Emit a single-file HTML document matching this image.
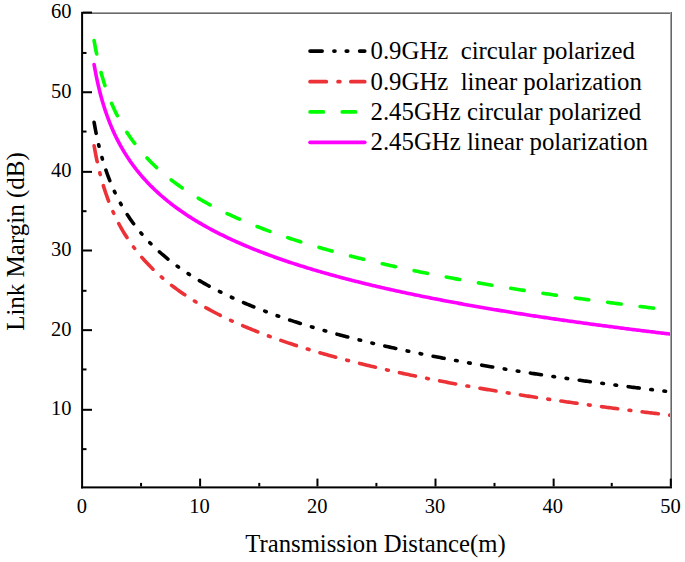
<!DOCTYPE html>
<html><head><meta charset="utf-8"><style>
html,body{margin:0;padding:0;background:#fff;}
body{width:685px;height:562px;overflow:hidden;}
svg{display:block;font-family:"Liberation Serif",serif;}
text{fill:#000;}
</style></head><body>
<svg width="685" height="562" viewBox="0 0 685 562">
<rect width="685" height="562" fill="#fff"/>
<rect x="82" y="12" width="590" height="1" fill="#a4a4a4"/>
<rect x="82" y="13" width="590" height="1" fill="#6a6a6a"/>
<rect x="670" y="12" width="1" height="476" fill="#a4a4a4"/>
<rect x="671" y="12" width="1" height="476" fill="#666"/>
<defs><clipPath id="pc"><rect x="83" y="14" width="587" height="472"/></clipPath></defs>
<g clip-path="url(#pc)">
<path d="M94.10,122.33 L95.54,130.29 L96.99,137.42 L98.43,143.89 L99.87,149.80 L101.31,155.25 L102.75,160.29 L104.20,164.99 L105.64,169.39 L107.08,173.53 L108.52,177.43 L109.96,181.13 L111.41,184.63 L112.85,187.97 L114.29,191.15 L115.73,194.19 L117.18,197.10 L118.62,199.89 L120.06,202.58 L121.50,205.16 L122.94,207.66 L124.39,210.06 L125.83,212.38 L127.27,214.63 L128.71,216.81 L130.15,218.92 L131.60,220.96 L133.04,222.95 L134.48,224.88 L135.92,226.76 L137.36,228.59 L138.81,230.38 L140.25,232.11 L141.69,233.81 L143.13,235.46 L144.57,237.08 L146.02,238.65 L147.46,240.20 L148.90,241.71 L150.34,243.18 L151.78,244.63 L153.23,246.04 L154.67,247.43 L156.11,248.79 L157.55,250.13 L159.00,251.43 L160.44,252.72 L161.88,253.98 L163.32,255.22 L164.76,256.43 L166.21,257.63 L167.65,258.80 L169.09,259.96 L170.53,261.09 L171.97,262.21 L173.42,263.31 L174.86,264.39 L176.30,265.46 L177.74,266.51 L179.18,267.54 L180.63,268.56 L182.07,269.56 L183.51,270.55 L184.95,271.53 L186.39,272.49 L187.84,273.44 L189.28,274.37 L190.72,275.30 L192.16,276.21 L193.60,277.11 L195.05,277.99 L196.49,278.87 L197.93,279.73 L199.37,280.59 L200.82,281.43 L202.26,282.27 L203.70,283.09 L205.14,283.90 L206.58,284.71 L208.03,285.50 L209.47,286.29 L210.91,287.07 L212.35,287.83 L213.79,288.59 L215.24,289.35 L216.68,290.09 L218.12,290.83 L219.56,291.55 L221.00,292.27 L222.45,292.99 L223.89,293.69 L225.33,294.39 L226.77,295.08 L228.21,295.77 L229.66,296.44 L231.10,297.11 L232.54,297.78 L233.98,298.44 L235.42,299.09 L236.87,299.74 L238.31,300.38 L239.75,301.01 L241.19,301.64 L242.64,302.26 L244.08,302.88 L245.52,303.49 L246.96,304.10 L248.40,304.70 L249.85,305.29 L251.29,305.88 L252.73,306.47 L254.17,307.05 L255.61,307.63 L257.06,308.20 L258.50,308.76 L259.94,309.32 L261.38,309.88 L262.82,310.43 L264.27,310.98 L265.71,311.53 L267.15,312.07 L268.59,312.60 L270.03,313.13 L271.48,313.66 L272.92,314.18 L274.36,314.70 L275.80,315.22 L277.24,315.73 L278.69,316.24 L280.13,316.74 L281.57,317.24 L283.01,317.74 L284.46,318.23 L285.90,318.72 L287.34,319.21 L288.78,319.69 L290.22,320.17 L291.67,320.65 L293.11,321.12 L294.55,321.59 L295.99,322.06 L297.43,322.52 L298.88,322.98 L300.32,323.44 L301.76,323.89 L303.20,324.35 L304.64,324.79 L306.09,325.24 L307.53,325.68 L308.97,326.12 L310.41,326.56 L311.85,326.99 L313.30,327.43 L314.74,327.85 L316.18,328.28 L317.62,328.70 L319.06,329.12 L320.51,329.54 L321.95,329.96 L323.39,330.37 L324.83,330.78 L326.28,331.19 L327.72,331.60 L329.16,332.00 L330.60,332.40 L332.04,332.80 L333.49,333.20 L334.93,333.59 L336.37,333.99 L337.81,334.38 L339.25,334.76 L340.70,335.15 L342.14,335.53 L343.58,335.91 L345.02,336.29 L346.46,336.67 L347.91,337.05 L349.35,337.42 L350.79,337.79 L352.23,338.16 L353.67,338.53 L355.12,338.89 L356.56,339.26 L358.00,339.62 L359.44,339.98 L360.88,340.33 L362.33,340.69 L363.77,341.04 L365.21,341.40 L366.65,341.75 L368.10,342.09 L369.54,342.44 L370.98,342.79 L372.42,343.13 L373.86,343.47 L375.31,343.81 L376.75,344.15 L378.19,344.49 L379.63,344.82 L381.07,345.16 L382.52,345.49 L383.96,345.82 L385.40,346.15 L386.84,346.47 L388.28,346.80 L389.73,347.12 L391.17,347.45 L392.61,347.77 L394.05,348.09 L395.49,348.40 L396.94,348.72 L398.38,349.04 L399.82,349.35 L401.26,349.66 L402.70,349.97 L404.15,350.28 L405.59,350.59 L407.03,350.90 L408.47,351.20 L409.92,351.51 L411.36,351.81 L412.80,352.11 L414.24,352.41 L415.68,352.71 L417.13,353.01 L418.57,353.30 L420.01,353.60 L421.45,353.89 L422.89,354.18 L424.34,354.47 L425.78,354.76 L427.22,355.05 L428.66,355.34 L430.10,355.63 L431.55,355.91 L432.99,356.20 L434.43,356.48 L435.87,356.76 L437.31,357.04 L438.76,357.32 L440.20,357.60 L441.64,357.88 L443.08,358.15 L444.53,358.43 L445.97,358.70 L447.41,358.97 L448.85,359.24 L450.29,359.51 L451.74,359.78 L453.18,360.05 L454.62,360.32 L456.06,360.59 L457.50,360.85 L458.95,361.12 L460.39,361.38 L461.83,361.64 L463.27,361.90 L464.71,362.16 L466.16,362.42 L467.60,362.68 L469.04,362.94 L470.48,363.20 L471.92,363.45 L473.37,363.71 L474.81,363.96 L476.25,364.21 L477.69,364.46 L479.13,364.71 L480.58,364.96 L482.02,365.21 L483.46,365.46 L484.90,365.71 L486.35,365.96 L487.79,366.20 L489.23,366.45 L490.67,366.69 L492.11,366.93 L493.56,367.17 L495.00,367.42 L496.44,367.66 L497.88,367.90 L499.32,368.13 L500.77,368.37 L502.21,368.61 L503.65,368.85 L505.09,369.08 L506.53,369.32 L507.98,369.55 L509.42,369.78 L510.86,370.01 L512.30,370.25 L513.74,370.48 L515.19,370.71 L516.63,370.94 L518.07,371.16 L519.51,371.39 L520.95,371.62 L522.40,371.84 L523.84,372.07 L525.28,372.30 L526.72,372.52 L528.17,372.74 L529.61,372.96 L531.05,373.19 L532.49,373.41 L533.93,373.63 L535.38,373.85 L536.82,374.07 L538.26,374.29 L539.70,374.50 L541.14,374.72 L542.59,374.94 L544.03,375.15 L545.47,375.37 L546.91,375.58 L548.35,375.79 L549.80,376.01 L551.24,376.22 L552.68,376.43 L554.12,376.64 L555.56,376.85 L557.01,377.06 L558.45,377.27 L559.89,377.48 L561.33,377.69 L562.77,377.89 L564.22,378.10 L565.66,378.31 L567.10,378.51 L568.54,378.72 L569.99,378.92 L571.43,379.12 L572.87,379.33 L574.31,379.53 L575.75,379.73 L577.20,379.93 L578.64,380.13 L580.08,380.33 L581.52,380.53 L582.96,380.73 L584.41,380.93 L585.85,381.13 L587.29,381.32 L588.73,381.52 L590.17,381.72 L591.62,381.91 L593.06,382.11 L594.50,382.30 L595.94,382.49 L597.38,382.69 L598.83,382.88 L600.27,383.07 L601.71,383.26 L603.15,383.45 L604.59,383.64 L606.04,383.83 L607.48,384.02 L608.92,384.21 L610.36,384.40 L611.81,384.59 L613.25,384.78 L614.69,384.96 L616.13,385.15 L617.57,385.34 L619.02,385.52 L620.46,385.71 L621.90,385.89 L623.34,386.07 L624.78,386.26 L626.23,386.44 L627.67,386.62 L629.11,386.81 L630.55,386.99 L631.99,387.17 L633.44,387.35 L634.88,387.53 L636.32,387.71 L637.76,387.89 L639.20,388.07 L640.65,388.24 L642.09,388.42 L643.53,388.60 L644.97,388.78 L646.41,388.95 L647.86,389.13 L649.30,389.30 L650.74,389.48 L652.18,389.65 L653.63,389.83 L655.07,390.00 L656.51,390.17 L657.95,390.35 L659.39,390.52 L660.84,390.69 L662.28,390.86 L663.72,391.03 L665.16,391.21 L666.60,391.38 L668.05,391.55 L669.49,391.71 L670.93,391.88" fill="none" stroke="#000000" stroke-width="3.6" stroke-linecap="round" stroke-linejoin="round" stroke-dasharray="11.20 11.65 1.60 11.65 1.60 11.65"/>
<path d="M94.10,145.73 L95.54,153.69 L96.99,160.83 L98.43,167.29 L99.87,173.21 L101.31,178.65 L102.75,183.70 L104.20,188.40 L105.64,192.80 L107.08,196.93 L108.52,200.84 L109.96,204.53 L111.41,208.03 L112.85,211.37 L114.29,214.55 L115.73,217.59 L117.18,220.50 L118.62,223.30 L120.06,225.98 L121.50,228.57 L122.94,231.06 L124.39,233.46 L125.83,235.79 L127.27,238.03 L128.71,240.21 L130.15,242.32 L131.60,244.37 L133.04,246.35 L134.48,248.29 L135.92,250.17 L137.36,252.00 L138.81,253.78 L140.25,255.51 L141.69,257.21 L143.13,258.86 L144.57,260.48 L146.02,262.06 L147.46,263.60 L148.90,265.11 L150.34,266.59 L151.78,268.03 L153.23,269.45 L154.67,270.83 L156.11,272.19 L157.55,273.53 L159.00,274.84 L160.44,276.12 L161.88,277.38 L163.32,278.62 L164.76,279.84 L166.21,281.03 L167.65,282.21 L169.09,283.36 L170.53,284.50 L171.97,285.61 L173.42,286.71 L174.86,287.80 L176.30,288.86 L177.74,289.91 L179.18,290.94 L180.63,291.96 L182.07,292.97 L183.51,293.96 L184.95,294.93 L186.39,295.89 L187.84,296.84 L189.28,297.78 L190.72,298.70 L192.16,299.61 L193.60,300.51 L195.05,301.40 L196.49,302.27 L197.93,303.14 L199.37,303.99 L200.82,304.83 L202.26,305.67 L203.70,306.49 L205.14,307.31 L206.58,308.11 L208.03,308.90 L209.47,309.69 L210.91,310.47 L212.35,311.24 L213.79,312.00 L215.24,312.75 L216.68,313.49 L218.12,314.23 L219.56,314.96 L221.00,315.68 L222.45,316.39 L223.89,317.09 L225.33,317.79 L226.77,318.48 L228.21,319.17 L229.66,319.85 L231.10,320.52 L232.54,321.18 L233.98,321.84 L235.42,322.49 L236.87,323.14 L238.31,323.78 L239.75,324.41 L241.19,325.04 L242.64,325.66 L244.08,326.28 L245.52,326.89 L246.96,327.50 L248.40,328.10 L249.85,328.70 L251.29,329.29 L252.73,329.87 L254.17,330.45 L255.61,331.03 L257.06,331.60 L258.50,332.17 L259.94,332.73 L261.38,333.28 L262.82,333.84 L264.27,334.39 L265.71,334.93 L267.15,335.47 L268.59,336.00 L270.03,336.54 L271.48,337.06 L272.92,337.59 L274.36,338.11 L275.80,338.62 L277.24,339.13 L278.69,339.64 L280.13,340.15 L281.57,340.65 L283.01,341.14 L284.46,341.64 L285.90,342.13 L287.34,342.61 L288.78,343.10 L290.22,343.58 L291.67,344.05 L293.11,344.52 L294.55,344.99 L295.99,345.46 L297.43,345.92 L298.88,346.39 L300.32,346.84 L301.76,347.30 L303.20,347.75 L304.64,348.20 L306.09,348.64 L307.53,349.08 L308.97,349.52 L310.41,349.96 L311.85,350.40 L313.30,350.83 L314.74,351.26 L316.18,351.68 L317.62,352.11 L319.06,352.53 L320.51,352.95 L321.95,353.36 L323.39,353.77 L324.83,354.19 L326.28,354.59 L327.72,355.00 L329.16,355.40 L330.60,355.81 L332.04,356.20 L333.49,356.60 L334.93,357.00 L336.37,357.39 L337.81,357.78 L339.25,358.17 L340.70,358.55 L342.14,358.94 L343.58,359.32 L345.02,359.70 L346.46,360.07 L347.91,360.45 L349.35,360.82 L350.79,361.19 L352.23,361.56 L353.67,361.93 L355.12,362.29 L356.56,362.66 L358.00,363.02 L359.44,363.38 L360.88,363.74 L362.33,364.09 L363.77,364.45 L365.21,364.80 L366.65,365.15 L368.10,365.50 L369.54,365.84 L370.98,366.19 L372.42,366.53 L373.86,366.87 L375.31,367.21 L376.75,367.55 L378.19,367.89 L379.63,368.22 L381.07,368.56 L382.52,368.89 L383.96,369.22 L385.40,369.55 L386.84,369.88 L388.28,370.20 L389.73,370.52 L391.17,370.85 L392.61,371.17 L394.05,371.49 L395.49,371.81 L396.94,372.12 L398.38,372.44 L399.82,372.75 L401.26,373.06 L402.70,373.37 L404.15,373.68 L405.59,373.99 L407.03,374.30 L408.47,374.60 L409.92,374.91 L411.36,375.21 L412.80,375.51 L414.24,375.81 L415.68,376.11 L417.13,376.41 L418.57,376.70 L420.01,377.00 L421.45,377.29 L422.89,377.59 L424.34,377.88 L425.78,378.17 L427.22,378.46 L428.66,378.74 L430.10,379.03 L431.55,379.31 L432.99,379.60 L434.43,379.88 L435.87,380.16 L437.31,380.44 L438.76,380.72 L440.20,381.00 L441.64,381.28 L443.08,381.55 L444.53,381.83 L445.97,382.10 L447.41,382.37 L448.85,382.65 L450.29,382.92 L451.74,383.19 L453.18,383.46 L454.62,383.72 L456.06,383.99 L457.50,384.25 L458.95,384.52 L460.39,384.78 L461.83,385.04 L463.27,385.31 L464.71,385.57 L466.16,385.83 L467.60,386.08 L469.04,386.34 L470.48,386.60 L471.92,386.85 L473.37,387.11 L474.81,387.36 L476.25,387.61 L477.69,387.87 L479.13,388.12 L480.58,388.37 L482.02,388.62 L483.46,388.86 L484.90,389.11 L486.35,389.36 L487.79,389.60 L489.23,389.85 L490.67,390.09 L492.11,390.33 L493.56,390.58 L495.00,390.82 L496.44,391.06 L497.88,391.30 L499.32,391.54 L500.77,391.77 L502.21,392.01 L503.65,392.25 L505.09,392.48 L506.53,392.72 L507.98,392.95 L509.42,393.18 L510.86,393.42 L512.30,393.65 L513.74,393.88 L515.19,394.11 L516.63,394.34 L518.07,394.57 L519.51,394.79 L520.95,395.02 L522.40,395.25 L523.84,395.47 L525.28,395.70 L526.72,395.92 L528.17,396.14 L529.61,396.37 L531.05,396.59 L532.49,396.81 L533.93,397.03 L535.38,397.25 L536.82,397.47 L538.26,397.69 L539.70,397.90 L541.14,398.12 L542.59,398.34 L544.03,398.55 L545.47,398.77 L546.91,398.98 L548.35,399.20 L549.80,399.41 L551.24,399.62 L552.68,399.83 L554.12,400.04 L555.56,400.25 L557.01,400.46 L558.45,400.67 L559.89,400.88 L561.33,401.09 L562.77,401.30 L564.22,401.50 L565.66,401.71 L567.10,401.91 L568.54,402.12 L569.99,402.32 L571.43,402.53 L572.87,402.73 L574.31,402.93 L575.75,403.13 L577.20,403.33 L578.64,403.53 L580.08,403.73 L581.52,403.93 L582.96,404.13 L584.41,404.33 L585.85,404.53 L587.29,404.73 L588.73,404.92 L590.17,405.12 L591.62,405.31 L593.06,405.51 L594.50,405.70 L595.94,405.90 L597.38,406.09 L598.83,406.28 L600.27,406.47 L601.71,406.67 L603.15,406.86 L604.59,407.05 L606.04,407.24 L607.48,407.43 L608.92,407.62 L610.36,407.80 L611.81,407.99 L613.25,408.18 L614.69,408.37 L616.13,408.55 L617.57,408.74 L619.02,408.92 L620.46,409.11 L621.90,409.29 L623.34,409.48 L624.78,409.66 L626.23,409.84 L627.67,410.03 L629.11,410.21 L630.55,410.39 L631.99,410.57 L633.44,410.75 L634.88,410.93 L636.32,411.11 L637.76,411.29 L639.20,411.47 L640.65,411.65 L642.09,411.82 L643.53,412.00 L644.97,412.18 L646.41,412.35 L647.86,412.53 L649.30,412.71 L650.74,412.88 L652.18,413.06 L653.63,413.23 L655.07,413.40 L656.51,413.58 L657.95,413.75 L659.39,413.92 L660.84,414.09 L662.28,414.27 L663.72,414.44 L665.16,414.61 L666.60,414.78 L668.05,414.95 L669.49,415.12 L670.93,415.29" fill="none" stroke="#ec3236" stroke-width="3.6" stroke-linecap="round" stroke-linejoin="round" stroke-dasharray="16.30 11.44 1.80 11.44"/>
<path d="M94.10,40.62 L95.54,48.58 L96.99,55.72 L98.43,62.18 L99.87,68.09 L101.31,73.54 L102.75,78.58 L104.20,83.28 L105.64,87.68 L107.08,91.82 L108.52,95.72 L109.96,99.42 L111.41,102.92 L112.85,106.26 L114.29,109.44 L115.73,112.48 L117.18,115.39 L118.62,118.18 L120.06,120.87 L121.50,123.45 L122.94,125.95 L124.39,128.35 L125.83,130.67 L127.27,132.92 L128.71,135.10 L130.15,137.21 L131.60,139.25 L133.04,141.24 L134.48,143.17 L135.92,145.05 L137.36,146.88 L138.81,148.67 L140.25,150.40 L141.69,152.10 L143.13,153.75 L144.57,155.37 L146.02,156.94 L147.46,158.49 L148.90,160.00 L150.34,161.47 L151.78,162.92 L153.23,164.33 L154.67,165.72 L156.11,167.08 L157.55,168.42 L159.00,169.72 L160.44,171.01 L161.88,172.27 L163.32,173.51 L164.76,174.72 L166.21,175.92 L167.65,177.09 L169.09,178.25 L170.53,179.38 L171.97,180.50 L173.42,181.60 L174.86,182.68 L176.30,183.75 L177.74,184.80 L179.18,185.83 L180.63,186.85 L182.07,187.85 L183.51,188.84 L184.95,189.82 L186.39,190.78 L187.84,191.73 L189.28,192.66 L190.72,193.59 L192.16,194.50 L193.60,195.40 L195.05,196.28 L196.49,197.16 L197.93,198.02 L199.37,198.88 L200.82,199.72 L202.26,200.56 L203.70,201.38 L205.14,202.19 L206.58,203.00 L208.03,203.79 L209.47,204.58 L210.91,205.36 L212.35,206.12 L213.79,206.88 L215.24,207.64 L216.68,208.38 L218.12,209.12 L219.56,209.84 L221.00,210.56 L222.45,211.28 L223.89,211.98 L225.33,212.68 L226.77,213.37 L228.21,214.06 L229.66,214.73 L231.10,215.41 L232.54,216.07 L233.98,216.73 L235.42,217.38 L236.87,218.03 L238.31,218.67 L239.75,219.30 L241.19,219.93 L242.64,220.55 L244.08,221.17 L245.52,221.78 L246.96,222.39 L248.40,222.99 L249.85,223.58 L251.29,224.17 L252.73,224.76 L254.17,225.34 L255.61,225.92 L257.06,226.49 L258.50,227.05 L259.94,227.61 L261.38,228.17 L262.82,228.72 L264.27,229.27 L265.71,229.82 L267.15,230.36 L268.59,230.89 L270.03,231.42 L271.48,231.95 L272.92,232.47 L274.36,232.99 L275.80,233.51 L277.24,234.02 L278.69,234.53 L280.13,235.03 L281.57,235.53 L283.01,236.03 L284.46,236.52 L285.90,237.01 L287.34,237.50 L288.78,237.98 L290.22,238.46 L291.67,238.94 L293.11,239.41 L294.55,239.88 L295.99,240.35 L297.43,240.81 L298.88,241.27 L300.32,241.73 L301.76,242.18 L303.20,242.64 L304.64,243.08 L306.09,243.53 L307.53,243.97 L308.97,244.41 L310.41,244.85 L311.85,245.28 L313.30,245.72 L314.74,246.14 L316.18,246.57 L317.62,246.99 L319.06,247.41 L320.51,247.83 L321.95,248.25 L323.39,248.66 L324.83,249.07 L326.28,249.48 L327.72,249.89 L329.16,250.29 L330.60,250.69 L332.04,251.09 L333.49,251.49 L334.93,251.88 L336.37,252.28 L337.81,252.67 L339.25,253.05 L340.70,253.44 L342.14,253.82 L343.58,254.20 L345.02,254.58 L346.46,254.96 L347.91,255.34 L349.35,255.71 L350.79,256.08 L352.23,256.45 L353.67,256.82 L355.12,257.18 L356.56,257.55 L358.00,257.91 L359.44,258.27 L360.88,258.62 L362.33,258.98 L363.77,259.33 L365.21,259.69 L366.65,260.04 L368.10,260.38 L369.54,260.73 L370.98,261.08 L372.42,261.42 L373.86,261.76 L375.31,262.10 L376.75,262.44 L378.19,262.78 L379.63,263.11 L381.07,263.45 L382.52,263.78 L383.96,264.11 L385.40,264.44 L386.84,264.76 L388.28,265.09 L389.73,265.41 L391.17,265.74 L392.61,266.06 L394.05,266.38 L395.49,266.69 L396.94,267.01 L398.38,267.33 L399.82,267.64 L401.26,267.95 L402.70,268.26 L404.15,268.57 L405.59,268.88 L407.03,269.19 L408.47,269.49 L409.92,269.80 L411.36,270.10 L412.80,270.40 L414.24,270.70 L415.68,271.00 L417.13,271.30 L418.57,271.59 L420.01,271.89 L421.45,272.18 L422.89,272.47 L424.34,272.76 L425.78,273.05 L427.22,273.34 L428.66,273.63 L430.10,273.92 L431.55,274.20 L432.99,274.49 L434.43,274.77 L435.87,275.05 L437.31,275.33 L438.76,275.61 L440.20,275.89 L441.64,276.17 L443.08,276.44 L444.53,276.72 L445.97,276.99 L447.41,277.26 L448.85,277.53 L450.29,277.80 L451.74,278.07 L453.18,278.34 L454.62,278.61 L456.06,278.88 L457.50,279.14 L458.95,279.41 L460.39,279.67 L461.83,279.93 L463.27,280.19 L464.71,280.45 L466.16,280.71 L467.60,280.97 L469.04,281.23 L470.48,281.49 L471.92,281.74 L473.37,282.00 L474.81,282.25 L476.25,282.50 L477.69,282.75 L479.13,283.00 L480.58,283.25 L482.02,283.50 L483.46,283.75 L484.90,284.00 L486.35,284.25 L487.79,284.49 L489.23,284.74 L490.67,284.98 L492.11,285.22 L493.56,285.46 L495.00,285.71 L496.44,285.95 L497.88,286.19 L499.32,286.42 L500.77,286.66 L502.21,286.90 L503.65,287.14 L505.09,287.37 L506.53,287.61 L507.98,287.84 L509.42,288.07 L510.86,288.30 L512.30,288.54 L513.74,288.77 L515.19,289.00 L516.63,289.23 L518.07,289.45 L519.51,289.68 L520.95,289.91 L522.40,290.14 L523.84,290.36 L525.28,290.59 L526.72,290.81 L528.17,291.03 L529.61,291.25 L531.05,291.48 L532.49,291.70 L533.93,291.92 L535.38,292.14 L536.82,292.36 L538.26,292.58 L539.70,292.79 L541.14,293.01 L542.59,293.23 L544.03,293.44 L545.47,293.66 L546.91,293.87 L548.35,294.08 L549.80,294.30 L551.24,294.51 L552.68,294.72 L554.12,294.93 L555.56,295.14 L557.01,295.35 L558.45,295.56 L559.89,295.77 L561.33,295.98 L562.77,296.18 L564.22,296.39 L565.66,296.60 L567.10,296.80 L568.54,297.01 L569.99,297.21 L571.43,297.41 L572.87,297.62 L574.31,297.82 L575.75,298.02 L577.20,298.22 L578.64,298.42 L580.08,298.62 L581.52,298.82 L582.96,299.02 L584.41,299.22 L585.85,299.42 L587.29,299.61 L588.73,299.81 L590.17,300.01 L591.62,300.20 L593.06,300.40 L594.50,300.59 L595.94,300.78 L597.38,300.98 L598.83,301.17 L600.27,301.36 L601.71,301.55 L603.15,301.74 L604.59,301.93 L606.04,302.12 L607.48,302.31 L608.92,302.50 L610.36,302.69 L611.81,302.88 L613.25,303.07 L614.69,303.25 L616.13,303.44 L617.57,303.63 L619.02,303.81 L620.46,304.00 L621.90,304.18 L623.34,304.36 L624.78,304.55 L626.23,304.73 L627.67,304.91 L629.11,305.10 L630.55,305.28 L631.99,305.46 L633.44,305.64 L634.88,305.82 L636.32,306.00 L637.76,306.18 L639.20,306.36 L640.65,306.53 L642.09,306.71 L643.53,306.89 L644.97,307.07 L646.41,307.24 L647.86,307.42 L649.30,307.59 L650.74,307.77 L652.18,307.94 L653.63,308.12 L655.07,308.29 L656.51,308.46 L657.95,308.64 L659.39,308.81 L660.84,308.98 L662.28,309.15 L663.72,309.32 L665.16,309.50 L666.60,309.67 L668.05,309.84 L669.49,310.01 L670.93,310.17" fill="none" stroke="#00ff00" stroke-width="3.6" stroke-linecap="round" stroke-linejoin="round" stroke-dasharray="13.60 19.08"/>
<path d="M94.10,64.57 L95.54,72.54 L96.99,79.67 L98.43,86.14 L99.87,92.05 L101.31,97.50 L102.75,102.54 L104.20,107.24 L105.64,111.64 L107.08,115.78 L108.52,119.68 L109.96,123.37 L111.41,126.88 L112.85,130.21 L114.29,133.40 L115.73,136.44 L117.18,139.35 L118.62,142.14 L120.06,144.83 L121.50,147.41 L122.94,149.90 L124.39,152.31 L125.83,154.63 L127.27,156.88 L128.71,159.05 L130.15,161.16 L131.60,163.21 L133.04,165.20 L134.48,167.13 L135.92,169.01 L137.36,170.84 L138.81,172.62 L140.25,174.36 L141.69,176.05 L143.13,177.71 L144.57,179.32 L146.02,180.90 L147.46,182.45 L148.90,183.95 L150.34,185.43 L151.78,186.88 L153.23,188.29 L154.67,189.68 L156.11,191.04 L157.55,192.37 L159.00,193.68 L160.44,194.97 L161.88,196.23 L163.32,197.46 L164.76,198.68 L166.21,199.88 L167.65,201.05 L169.09,202.21 L170.53,203.34 L171.97,204.46 L173.42,205.56 L174.86,206.64 L176.30,207.71 L177.74,208.76 L179.18,209.79 L180.63,210.81 L182.07,211.81 L183.51,212.80 L184.95,213.78 L186.39,214.74 L187.84,215.69 L189.28,216.62 L190.72,217.54 L192.16,218.45 L193.60,219.35 L195.05,220.24 L196.49,221.12 L197.93,221.98 L199.37,222.84 L200.82,223.68 L202.26,224.51 L203.70,225.34 L205.14,226.15 L206.58,226.96 L208.03,227.75 L209.47,228.54 L210.91,229.31 L212.35,230.08 L213.79,230.84 L215.24,231.59 L216.68,232.34 L218.12,233.07 L219.56,233.80 L221.00,234.52 L222.45,235.23 L223.89,235.94 L225.33,236.64 L226.77,237.33 L228.21,238.01 L229.66,238.69 L231.10,239.36 L232.54,240.03 L233.98,240.69 L235.42,241.34 L236.87,241.98 L238.31,242.62 L239.75,243.26 L241.19,243.89 L242.64,244.51 L244.08,245.13 L245.52,245.74 L246.96,246.34 L248.40,246.94 L249.85,247.54 L251.29,248.13 L252.73,248.72 L254.17,249.30 L255.61,249.87 L257.06,250.44 L258.50,251.01 L259.94,251.57 L261.38,252.13 L262.82,252.68 L264.27,253.23 L265.71,253.77 L267.15,254.31 L268.59,254.85 L270.03,255.38 L271.48,255.91 L272.92,256.43 L274.36,256.95 L275.80,257.47 L277.24,257.98 L278.69,258.49 L280.13,258.99 L281.57,259.49 L283.01,259.99 L284.46,260.48 L285.90,260.97 L287.34,261.46 L288.78,261.94 L290.22,262.42 L291.67,262.90 L293.11,263.37 L294.55,263.84 L295.99,264.31 L297.43,264.77 L298.88,265.23 L300.32,265.69 L301.76,266.14 L303.20,266.59 L304.64,267.04 L306.09,267.49 L307.53,267.93 L308.97,268.37 L310.41,268.81 L311.85,269.24 L313.30,269.67 L314.74,270.10 L316.18,270.53 L317.62,270.95 L319.06,271.37 L320.51,271.79 L321.95,272.21 L323.39,272.62 L324.83,273.03 L326.28,273.44 L327.72,273.85 L329.16,274.25 L330.60,274.65 L332.04,275.05 L333.49,275.45 L334.93,275.84 L336.37,276.23 L337.81,276.62 L339.25,277.01 L340.70,277.40 L342.14,277.78 L343.58,278.16 L345.02,278.54 L346.46,278.92 L347.91,279.29 L349.35,279.67 L350.79,280.04 L352.23,280.41 L353.67,280.77 L355.12,281.14 L356.56,281.50 L358.00,281.86 L359.44,282.22 L360.88,282.58 L362.33,282.94 L363.77,283.29 L365.21,283.64 L366.65,283.99 L368.10,284.34 L369.54,284.69 L370.98,285.03 L372.42,285.38 L373.86,285.72 L375.31,286.06 L376.75,286.40 L378.19,286.73 L379.63,287.07 L381.07,287.40 L382.52,287.73 L383.96,288.07 L385.40,288.39 L386.84,288.72 L388.28,289.05 L389.73,289.37 L391.17,289.69 L392.61,290.01 L394.05,290.33 L395.49,290.65 L396.94,290.97 L398.38,291.28 L399.82,291.60 L401.26,291.91 L402.70,292.22 L404.15,292.53 L405.59,292.84 L407.03,293.14 L408.47,293.45 L409.92,293.75 L411.36,294.06 L412.80,294.36 L414.24,294.66 L415.68,294.96 L417.13,295.25 L418.57,295.55 L420.01,295.84 L421.45,296.14 L422.89,296.43 L424.34,296.72 L425.78,297.01 L427.22,297.30 L428.66,297.59 L430.10,297.87 L431.55,298.16 L432.99,298.44 L434.43,298.73 L435.87,299.01 L437.31,299.29 L438.76,299.57 L440.20,299.85 L441.64,300.12 L443.08,300.40 L444.53,300.67 L445.97,300.95 L447.41,301.22 L448.85,301.49 L450.29,301.76 L451.74,302.03 L453.18,302.30 L454.62,302.57 L456.06,302.83 L457.50,303.10 L458.95,303.36 L460.39,303.63 L461.83,303.89 L463.27,304.15 L464.71,304.41 L466.16,304.67 L467.60,304.93 L469.04,305.19 L470.48,305.44 L471.92,305.70 L473.37,305.95 L474.81,306.21 L476.25,306.46 L477.69,306.71 L479.13,306.96 L480.58,307.21 L482.02,307.46 L483.46,307.71 L484.90,307.96 L486.35,308.20 L487.79,308.45 L489.23,308.69 L490.67,308.94 L492.11,309.18 L493.56,309.42 L495.00,309.66 L496.44,309.90 L497.88,310.14 L499.32,310.38 L500.77,310.62 L502.21,310.86 L503.65,311.09 L505.09,311.33 L506.53,311.56 L507.98,311.80 L509.42,312.03 L510.86,312.26 L512.30,312.49 L513.74,312.72 L515.19,312.95 L516.63,313.18 L518.07,313.41 L519.51,313.64 L520.95,313.87 L522.40,314.09 L523.84,314.32 L525.28,314.54 L526.72,314.77 L528.17,314.99 L529.61,315.21 L531.05,315.43 L532.49,315.66 L533.93,315.88 L535.38,316.10 L536.82,316.31 L538.26,316.53 L539.70,316.75 L541.14,316.97 L542.59,317.18 L544.03,317.40 L545.47,317.61 L546.91,317.83 L548.35,318.04 L549.80,318.25 L551.24,318.47 L552.68,318.68 L554.12,318.89 L555.56,319.10 L557.01,319.31 L558.45,319.52 L559.89,319.73 L561.33,319.93 L562.77,320.14 L564.22,320.35 L565.66,320.55 L567.10,320.76 L568.54,320.96 L569.99,321.17 L571.43,321.37 L572.87,321.57 L574.31,321.78 L575.75,321.98 L577.20,322.18 L578.64,322.38 L580.08,322.58 L581.52,322.78 L582.96,322.98 L584.41,323.18 L585.85,323.37 L587.29,323.57 L588.73,323.77 L590.17,323.96 L591.62,324.16 L593.06,324.35 L594.50,324.55 L595.94,324.74 L597.38,324.93 L598.83,325.13 L600.27,325.32 L601.71,325.51 L603.15,325.70 L604.59,325.89 L606.04,326.08 L607.48,326.27 L608.92,326.46 L610.36,326.65 L611.81,326.84 L613.25,327.02 L614.69,327.21 L616.13,327.40 L617.57,327.58 L619.02,327.77 L620.46,327.95 L621.90,328.14 L623.34,328.32 L624.78,328.51 L626.23,328.69 L627.67,328.87 L629.11,329.05 L630.55,329.23 L631.99,329.42 L633.44,329.60 L634.88,329.78 L636.32,329.96 L637.76,330.14 L639.20,330.31 L640.65,330.49 L642.09,330.67 L643.53,330.85 L644.97,331.02 L646.41,331.20 L647.86,331.38 L649.30,331.55 L650.74,331.73 L652.18,331.90 L653.63,332.08 L655.07,332.25 L656.51,332.42 L657.95,332.60 L659.39,332.77 L660.84,332.94 L662.28,333.11 L663.72,333.28 L665.16,333.45 L666.60,333.62 L668.05,333.79 L669.49,333.96 L670.93,334.13" fill="none" stroke="#ff00ff" stroke-width="3.6" stroke-linecap="round" stroke-linejoin="round"/>
</g>
<rect x="81.1" y="11.8" width="2" height="476.6" fill="#000"/>
<rect x="81.1" y="486.4" width="590.8" height="2" fill="#000"/>
<rect x="83" y="11.55" width="9" height="2" fill="#000"/>
<rect x="83" y="51.95" width="3.5" height="2" fill="#000"/>
<rect x="83" y="91.25" width="9" height="2" fill="#000"/>
<rect x="83" y="130.55" width="3.5" height="2" fill="#000"/>
<rect x="83" y="170.85" width="9" height="2" fill="#000"/>
<rect x="83" y="210.20" width="3.5" height="2" fill="#000"/>
<rect x="83" y="249.50" width="9" height="2" fill="#000"/>
<rect x="83" y="289.80" width="3.5" height="2" fill="#000"/>
<rect x="83" y="329.15" width="9" height="2" fill="#000"/>
<rect x="83" y="368.45" width="3.5" height="2" fill="#000"/>
<rect x="83" y="408.80" width="9" height="2" fill="#000"/>
<rect x="83" y="448.15" width="3.5" height="2" fill="#000"/>
<rect x="140.05" y="482.9" width="2" height="3.50" fill="#000"/>
<rect x="199.10" y="478.6" width="2" height="7.80" fill="#000"/>
<rect x="258.25" y="482.9" width="2" height="3.50" fill="#000"/>
<rect x="316.45" y="478.6" width="2" height="7.80" fill="#000"/>
<rect x="375.40" y="482.9" width="2" height="3.50" fill="#000"/>
<rect x="434.50" y="478.6" width="2" height="7.80" fill="#000"/>
<rect x="493.50" y="482.9" width="2" height="3.50" fill="#000"/>
<rect x="552.65" y="478.6" width="2" height="7.80" fill="#000"/>
<rect x="610.75" y="482.9" width="2" height="3.50" fill="#000"/>
<rect x="669.80" y="478.6" width="2" height="7.80" fill="#000"/>
<text x="71.5" y="415.40" text-anchor="end" font-size="20.5">10</text>
<text x="71.5" y="335.94" text-anchor="end" font-size="20.5">20</text>
<text x="71.5" y="256.48" text-anchor="end" font-size="20.5">30</text>
<text x="71.5" y="177.02" text-anchor="end" font-size="20.5">40</text>
<text x="71.5" y="97.56" text-anchor="end" font-size="20.5">50</text>
<text x="71.5" y="18.10" text-anchor="end" font-size="20.5">60</text>
<text x="81.83" y="512.5" text-anchor="middle" font-size="20.5">0</text>
<text x="199.55" y="512.5" text-anchor="middle" font-size="20.5">10</text>
<text x="317.27" y="512.5" text-anchor="middle" font-size="20.5">20</text>
<text x="434.99" y="512.5" text-anchor="middle" font-size="20.5">30</text>
<text x="552.71" y="512.5" text-anchor="middle" font-size="20.5">40</text>
<text x="670.43" y="512.5" text-anchor="middle" font-size="20.5">50</text>
<text x="375.5" y="552.3" text-anchor="middle" font-size="24.7">Transmission Distance(m)</text>
<text transform="translate(24,241.5) rotate(-90)" text-anchor="middle" font-size="25.0">Link Margin (dB)</text>
<line x1="310.10" y1="51.1" x2="364.70" y2="51.1" stroke="#000000" stroke-width="3.8" stroke-linecap="round" stroke-dasharray="12.00 11.90 0.90 11.40 1.40 12.00"/>
<text x="370.5" y="59.10" font-size="24.8">0.9GHz&#160; circular polarized</text>
<line x1="310.10" y1="81.7" x2="364.70" y2="81.7" stroke="#ec3236" stroke-width="3.8" stroke-linecap="round" stroke-dasharray="16.20 11.80 1.70 11.10"/>
<text x="370.5" y="89.70" font-size="24.8">0.9GHz&#160; linear polarization</text>
<line x1="310.10" y1="111.9" x2="364.70" y2="111.9" stroke="#00ff00" stroke-width="3.8" stroke-linecap="round" stroke-dasharray="13.20 19.00"/>
<text x="370.5" y="119.90" font-size="24.8">2.45GHz circular polarized</text>
<line x1="310.10" y1="142.3" x2="364.70" y2="142.3" stroke="#ff00ff" stroke-width="3.8" stroke-linecap="round"/>
<text x="370.5" y="150.30" font-size="24.8">2.45GHz linear polarization</text>
</svg>
</body></html>
